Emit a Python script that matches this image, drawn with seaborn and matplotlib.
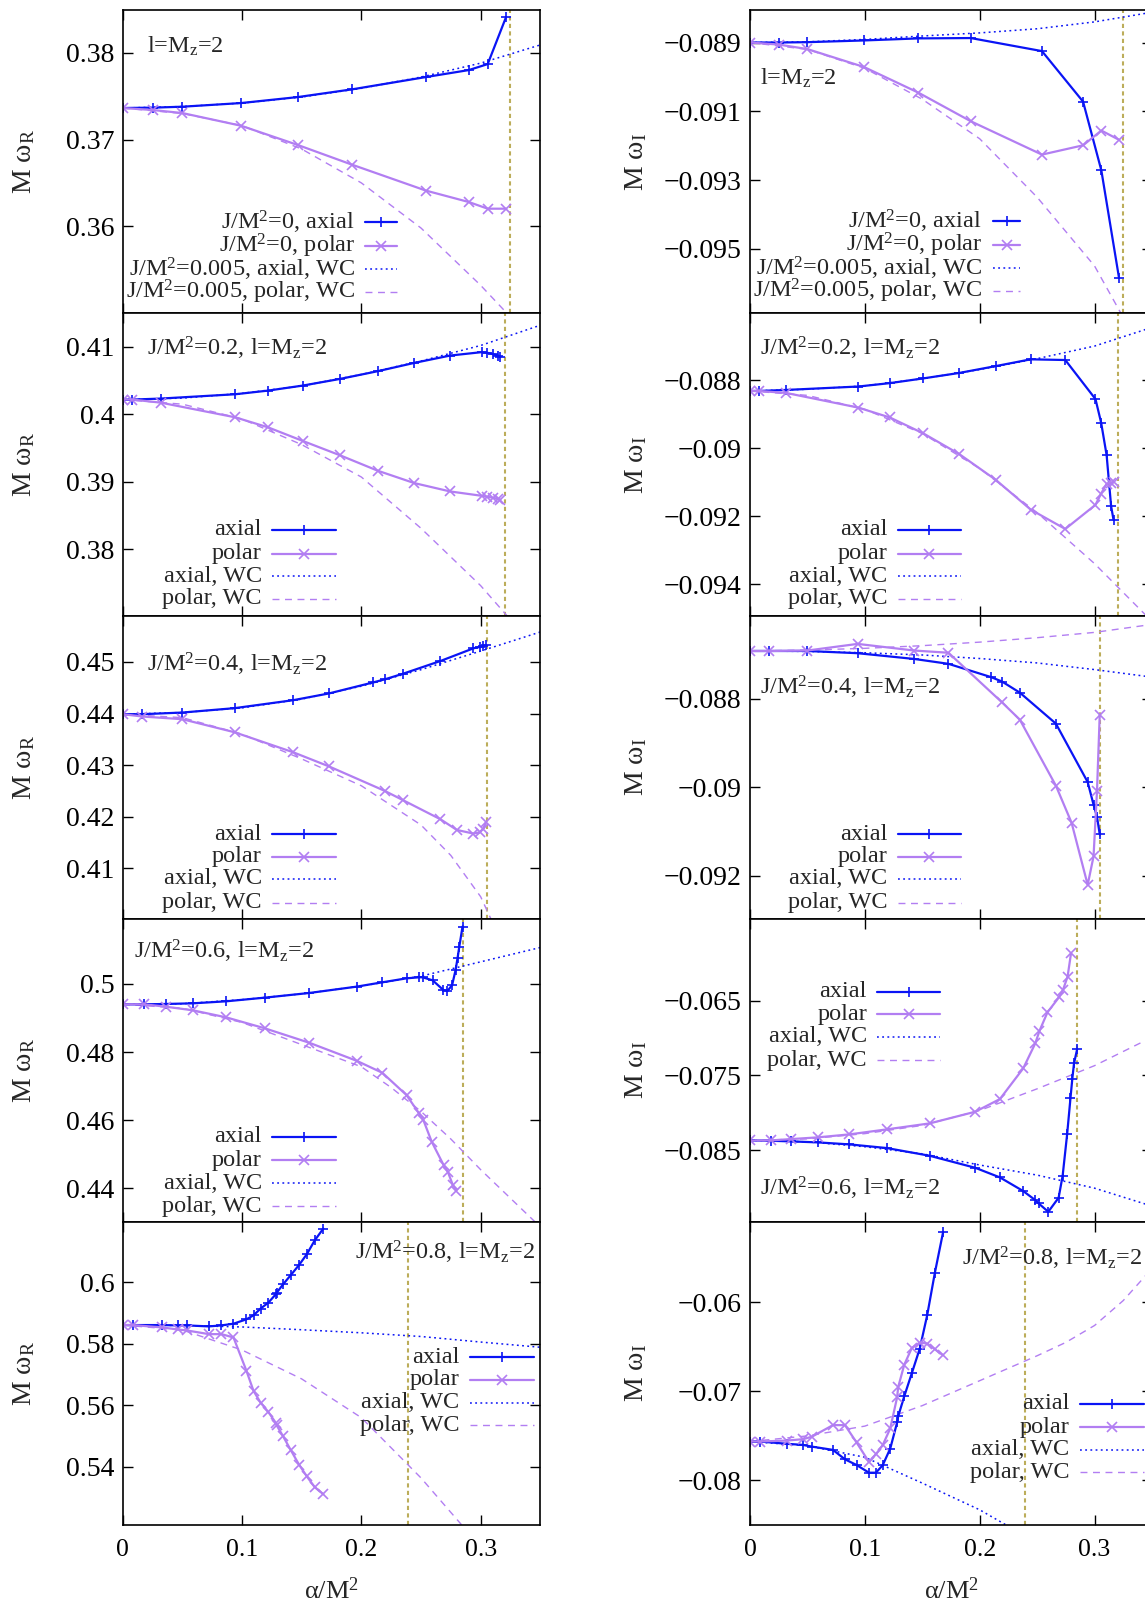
import matplotlib
matplotlib.use("Agg")
import matplotlib.pyplot as plt
import pandas as pd
import seaborn as sns

# ---------------------------------------------------------------- data
# J/M^2 = 0
x_J0 = [0, 0.0251, 0.0499, 0.0991, 0.1467, 0.1922, 0.2542, 0.2900, 0.3059, 0.3213]
wR_ax_J0 = [0.37363, 0.37367, 0.37378, 0.37420, 0.37489, 0.37578, 0.37720, 0.37800, 0.37869, 0.38411]
wR_po_J0 = [0.37363, 0.37340, 0.37305, 0.37159, 0.36937, 0.36710, 0.36411, 0.36280, 0.36203, 0.36203]
wI_ax_J0 = [-0.08900, -0.08900, -0.08899, -0.08894, -0.08888, -0.08887, -0.08925, -0.09072, -0.09272, -0.09585]
wI_po_J0 = [-0.08900, -0.08906, -0.08919, -0.08971, -0.09046, -0.09129, -0.09226, -0.09199, -0.09156, -0.09183]

# weak-coupling curves, J/M^2 = 0.005
x_wc = [0, 0.05, 0.1, 0.15, 0.2, 0.25, 0.3, 0.35]
wcR_ax_J0 = [0.37363, 0.3738, 0.3742, 0.3749, 0.3759, 0.3772, 0.3788, 0.3809]
wcR_po_J0 = [0.37363, 0.3730, 0.3716, 0.3689, 0.3650, 0.3598, 0.3532, 0.3459]
wcI_ax_J0 = [-0.08900, -0.08898, -0.08891, -0.08881, -0.08872, -0.08860, -0.08840, -0.08812]
wcI_po_J0 = [-0.08900, -0.08920, -0.08975, -0.09065, -0.09180, -0.09350, -0.09550, -0.09850]

# J/M^2 = 0.2
x_J2 = [0, 0.0080, 0.0317, 0.0943, 0.1217, 0.1510, 0.1823, 0.2138, 0.2444, 0.2745,
        0.3008, 0.3057, 0.3105, 0.3144, 0.3165]
wR_ax_J2 = [0.40218, 0.40218, 0.40233, 0.40297, 0.40351, 0.40426, 0.40525, 0.40639, 0.40762, 0.40871,
            0.40921, 0.40911, 0.40891, 0.40871, 0.40851]
wR_po_J2 = [0.40218, 0.40218, 0.40173, 0.39955, 0.39807, 0.39604, 0.39391, 0.39163, 0.38980, 0.38856,
            0.38792, 0.38777, 0.38762, 0.38743, 0.38733]
wI_ax_J2 = [-0.08832, -0.08832, -0.08829, -0.08819, -0.08809, -0.08795, -0.08779, -0.08759, -0.08739, -0.08741,
            -0.08856, -0.08925, -0.09021, -0.09171, -0.09211]
wI_po_J2 = [-0.08832, -0.08832, -0.08838, -0.08881, -0.08910, -0.08957, -0.09018, -0.09093, -0.09181, -0.09238,
            -0.09167, -0.09134, -0.09105, -0.09102, -0.09100]
wcR_ax_J2 = [0.40218, 0.4024, 0.4031, 0.4042, 0.4059, 0.4079, 0.4102, 0.4132]
wcR_po_J2 = [0.40218, 0.4015, 0.3993, 0.3955, 0.3907, 0.3831, 0.3746, 0.3645]
wcI_ax_J2 = [-0.08832, -0.08827, -0.08817, -0.08796, -0.08769, -0.08737, -0.08700, -0.08645]
wcI_po_J2 = [-0.08832, -0.08845, -0.08886, -0.08957, -0.09060, -0.09190, -0.09340, -0.09510]

# J/M^2 = 0.4
x_J4a = [0, 0.0164, 0.0499, 0.0937, 0.1430, 0.1728, 0.2099, 0.2194, 0.2349, 0.2663,
         0.2940, 0.2991, 0.3021, 0.3045]
x_J4p = [0, 0.0164, 0.0499, 0.0937, 0.1430, 0.1728, 0.2194, 0.2349, 0.2663, 0.2800,
         0.2940, 0.2991, 0.3021, 0.3045]
wR_ax_J4 = [0.43987, 0.43987, 0.44019, 0.44104, 0.44259, 0.44389, 0.44603, 0.44661, 0.44771, 0.45018,
            0.45264, 0.45290, 0.45303, 0.45328]
wI_ax_J4 = [-0.08692, -0.08692, -0.08692, -0.08697, -0.08710, -0.08721, -0.08751, -0.08761, -0.08786, -0.08856,
            -0.08988, -0.09039, -0.09066, -0.09106]
wR_po_J4 = [0.43987, 0.43942, 0.43890, 0.43637, 0.43248, 0.42976, 0.42503, 0.42321, 0.41951, 0.41744,
            0.41673, 0.41699, 0.41763, 0.41893]
wI_po_J4 = [-0.08692, -0.08692, -0.08691, -0.08676, -0.08691, -0.08696, -0.08808, -0.08847, -0.08996, -0.09080,
            -0.09220, -0.09156, -0.09009, -0.08836]
wcR_ax_J4 = [0.43987, 0.4402, 0.4411, 0.4428, 0.4453, 0.4485, 0.4521, 0.4558]
x_wcR_po_J4 = [0, 0.05, 0.1, 0.15, 0.2, 0.25, 0.275, 0.3, 0.31, 0.33]
wcR_po_J4 = [0.43987, 0.4392, 0.4360, 0.4312, 0.4260, 0.4184, 0.4125, 0.4045, 0.3995, 0.3890]
wcI_ax_J4 = [-0.08692, -0.08693, -0.08696, -0.08701, -0.08709, -0.08719, -0.08734, -0.08751]
wcI_po_J4 = [-0.08692, -0.08690, -0.08686, -0.08680, -0.08672, -0.08662, -0.08650, -0.08632]

# J/M^2 = 0.6
x_J6a = [0, 0.0179, 0.0358, 0.0588, 0.0866, 0.1191, 0.1564, 0.1961, 0.2176, 0.2379,
         0.2484, 0.2513, 0.2597, 0.2687, 0.2722, 0.2761, 0.2790, 0.2806, 0.2821, 0.2848]
x_J6p = [0, 0.0179, 0.0358, 0.0588, 0.0866, 0.1191, 0.1564, 0.1961, 0.2176, 0.2379,
         0.2484, 0.2520, 0.2590, 0.2690, 0.2725, 0.2765, 0.2795]
wR_ax_J6 = [0.49403, 0.49403, 0.49413, 0.49432, 0.49491, 0.49599, 0.49736, 0.49922, 0.50049, 0.50166,
            0.50196, 0.50196, 0.50108, 0.49824, 0.49794, 0.49971, 0.50411, 0.50754, 0.51096, 0.51683]
wI_ax_J6 = [-0.08371, -0.08375, -0.08384, -0.08397, -0.08424, -0.08473, -0.08576, -0.08737, -0.08866, -0.09049,
            -0.09170, -0.09214, -0.09326, -0.09138, -0.08844, -0.08290, -0.07808, -0.07549, -0.07339, -0.07152]
wR_po_J6 = [0.49403, 0.49403, 0.49334, 0.49227, 0.49021, 0.48698, 0.48274, 0.47745, 0.47393, 0.46737,
            0.46199, 0.46003, 0.45367, 0.44682, 0.44486, 0.44114, 0.43938]
wI_po_J6 = [-0.08371, -0.08371, -0.08353, -0.08330, -0.08290, -0.08223, -0.08143, -0.07987, -0.07817, -0.07406,
            -0.07071, -0.06906, -0.06656, -0.06455, -0.06357, -0.06179, -0.05866]
wcR_ax_J6 = [0.49403, 0.4942, 0.4954, 0.4971, 0.4994, 0.5023, 0.5065, 0.5107]
x_wcR_po_J6 = [0, 0.05, 0.1, 0.15, 0.2, 0.225, 0.25, 0.275, 0.3, 0.35]
wcR_po_J6 = [0.49403, 0.4929, 0.4887, 0.4822, 0.4757, 0.4696, 0.4626, 0.4545, 0.4455, 0.4287]
wcI_ax_J6 = [-0.08371, -0.08390, -0.08455, -0.08550, -0.08700, -0.08835, -0.09010, -0.09250]
wcI_po_J6 = [-0.08371, -0.08350, -0.08280, -0.08170, -0.07970, -0.07680, -0.07370, -0.06990]

# J/M^2 = 0.8
x_J8 = [0, 0.0087, 0.0325, 0.0460, 0.0537, 0.0722, 0.0827, 0.0928, 0.1036, 0.1096,
        0.1155, 0.1221, 0.1281, 0.1290, 0.1343, 0.1409, 0.1478, 0.1543, 0.1609, 0.1681]
wR_ax_J8 = [0.58612, 0.58612, 0.58612, 0.58601, 0.58601, 0.58568, 0.58601, 0.58656, 0.58798, 0.58929,
            0.59148, 0.59344, 0.59607, 0.59661, 0.59934, 0.60240, 0.60568, 0.60918, 0.61366, 0.61749]
wI_ax_J8 = [-0.07563, -0.07563, -0.07589, -0.07601, -0.07620, -0.07657, -0.07763, -0.07827, -0.07913, -0.07913,
            -0.07830, -0.07642, -0.07348, -0.07281, -0.07055, -0.06795, -0.06520, -0.06143, -0.05672, -0.05213]
wR_po_J8 = [0.58612, 0.58612, 0.58536, 0.58470, 0.58437, 0.58317, 0.58317, 0.58208, 0.57130, 0.56470,
            0.56090, 0.55780, 0.55440, 0.55350, 0.55000, 0.54540, 0.54070, 0.53690, 0.53340, 0.53110]
wI_po_J8 = [-0.07563, -0.07563, -0.07552, -0.07537, -0.07510, -0.07379, -0.07379, -0.07574, -0.07793, -0.07706,
            -0.07605, -0.07416, -0.07066, -0.06953, -0.06701, -0.06512, -0.06452, -0.06463, -0.06527, -0.06595]
wcR_ax_J8 = [0.58612, 0.5860, 0.5855, 0.5846, 0.5836, 0.5824, 0.5806, 0.5789]
x_wcR_po_J8 = [0, 0.05, 0.1, 0.15, 0.2, 0.25, 0.3]
wcR_po_J8 = [0.58612, 0.5845, 0.5780, 0.5686, 0.5560, 0.5364, 0.5140]
x_wcI_ax_J8 = [0, 0.05, 0.1, 0.15, 0.2, 0.25]
wcI_ax_J8 = [-0.07563, -0.07610, -0.07740, -0.08030, -0.08330, -0.08700]
x_wcI_po_J8 = [0, 0.05, 0.1, 0.15, 0.2, 0.25, 0.275, 0.3, 0.325, 0.35]
wcI_po_J8 = [-0.07563, -0.07500, -0.07390, -0.07160, -0.06880, -0.06600, -0.06450, -0.06260, -0.05980, -0.05620]

# last alpha/M^2 reached by the solutions in each rotation sequence
alpha_max = [0.325, 0.320, 0.305, 0.285, 0.239]

# axis ranges and tick labels
ylim_R = [(0.3500, 0.3849), (0.3701, 0.4150), (0.4002, 0.4589), (0.4302, 0.5191), (0.5212, 0.6197)]
ylim_I = [(-0.09687, -0.08806), (-0.09494, -0.08603), (-0.09297, -0.08613), (-0.0946, -0.05406), (-0.08497, -0.05096)]
yticks_R = [[0.36, 0.37, 0.38], [0.38, 0.39, 0.40, 0.41], [0.41, 0.42, 0.43, 0.44, 0.45],
            [0.44, 0.46, 0.48, 0.50], [0.54, 0.56, 0.58, 0.60]]
yticklabels_R = [["0.36", "0.37", "0.38"], ["0.38", "0.39", "0.4", "0.41"],
                 ["0.41", "0.42", "0.43", "0.44", "0.45"], ["0.44", "0.46", "0.48", "0.5"],
                 ["0.54", "0.56", "0.58", "0.6"]]
yticks_I = [[-0.095, -0.093, -0.091, -0.089], [-0.094, -0.092, -0.090, -0.088], [-0.092, -0.090, -0.088],
            [-0.085, -0.075, -0.065], [-0.08, -0.07, -0.06]]
yticklabels_I = [["−0.095", "−0.093", "−0.091", "−0.089"], ["−0.094", "−0.092", "−0.09", "−0.088"],
                 ["−0.092", "−0.09", "−0.088"], ["−0.085", "−0.075", "−0.065"], ["−0.08", "−0.07", "−0.06"]]
xticks = [0, 0.1, 0.2, 0.3]
xticklabels = ["0", "0.1", "0.2", "0.3"]

panel_titles = ["l=M$_\\mathrm{z}$=2",
                "J/M$^\\mathrm{2}$=0.2, l=M$_\\mathrm{z}$=2",
                "J/M$^\\mathrm{2}$=0.4, l=M$_\\mathrm{z}$=2",
                "J/M$^\\mathrm{2}$=0.6, l=M$_\\mathrm{z}$=2",
                "J/M$^\\mathrm{2}$=0.8, l=M$_\\mathrm{z}$=2"]
key_labels_J0 = ["J/M$^\\mathrm{2}$=0, axial", "J/M$^\\mathrm{2}$=0, polar",
                 "J/M$^\\mathrm{2}$=0.005, axial, WC", "J/M$^\\mathrm{2}$=0.005, polar, WC"]
key_labels = ["axial", "polar", "axial, WC", "polar, WC"]

# ---------------------------------------------------------------- style
FS = 17.5        # key and panel text
FS_TICK_Y = 20
FS_TICK_X = 18.5
FS_LABEL = 20

sns.set_theme(style="ticks")
plt.rcParams.update({
    "font.family": ["Liberation Serif", "DejaVu Serif"],
    "mathtext.fontset": "custom",
    "mathtext.rm": "Liberation Serif",
    "mathtext.it": "Liberation Serif:italic",
    "mathtext.bf": "Liberation Serif:bold",
    "font.size": FS,
    "axes.linewidth": 1.2,
    "axes.edgecolor": "black",
    "xtick.color": "black",
    "ytick.color": "black",
    "xtick.direction": "in",
    "ytick.direction": "in",
    "xtick.major.size": 7,
    "ytick.major.size": 7,
    "xtick.major.width": 1.0,
    "ytick.major.width": 1.0,
    "xtick.top": True,
    "ytick.right": True,
    "xtick.labelsize": FS_TICK_X,
    "ytick.labelsize": FS_TICK_Y,
})

C_AX = "#0a14f5"
C_PO = "#b27ef2"
C_LIM = "#bcad5a"
LS_DOT = (0, (1.2, 2.2))
LS_DASH = (0, (5, 4))


def series(ax, x, y, color, marker=None, ls="-", lw=1.6):
    df = pd.DataFrame({"alpha": x, "omega": y})
    kw = dict(data=df, x="alpha", y="omega", ax=ax, color=color, sort=False,
              estimator=None, linewidth=lw, linestyle=ls, legend=False)
    if marker is not None:
        kw.update(marker=marker, markersize=7, markeredgewidth=1.2,
                  markeredgecolor=color)
    sns.lineplot(**kw)


def key(ax, labels, xt, x0, x1, ys):
    specs = [(C_AX, "-", "+", 1.6), (C_PO, "-", "x", 1.6),
             (C_AX, LS_DOT, None, 1.1), (C_PO, LS_DASH, None, 1.0)]
    for lab, (c, ls, m, lw), y in zip(labels, specs, ys):
        ax.text(xt, y, lab, transform=ax.transAxes, ha="right", va="center",
                fontsize=FS)
        ax.plot([x0, x1], [y, y], transform=ax.transAxes, color=c, ls=ls,
                lw=lw, clip_on=False)
        if m is not None:
            ax.plot([(x0 + x1) / 2], [y], transform=ax.transAxes, color=c,
                    marker=m, ms=7, mew=1.2, clip_on=False)


rows = [
    dict(xa=x_J0, ra=wR_ax_J0, ia=wI_ax_J0, xp=x_J0, rp=wR_po_J0, ip=wI_po_J0,
         xra=x_wc, rwa=wcR_ax_J0, xrp=x_wc, rwp=wcR_po_J0,
         xia=x_wc, iwa=wcI_ax_J0, xip=x_wc, iwp=wcI_po_J0),
    dict(xa=x_J2, ra=wR_ax_J2, ia=wI_ax_J2, xp=x_J2, rp=wR_po_J2, ip=wI_po_J2,
         xra=x_wc, rwa=wcR_ax_J2, xrp=x_wc, rwp=wcR_po_J2,
         xia=x_wc, iwa=wcI_ax_J2, xip=x_wc, iwp=wcI_po_J2),
    dict(xa=x_J4a, ra=wR_ax_J4, ia=wI_ax_J4, xp=x_J4p, rp=wR_po_J4, ip=wI_po_J4,
         xra=x_wc, rwa=wcR_ax_J4, xrp=x_wcR_po_J4, rwp=wcR_po_J4,
         xia=x_wc, iwa=wcI_ax_J4, xip=x_wc, iwp=wcI_po_J4),
    dict(xa=x_J6a, ra=wR_ax_J6, ia=wI_ax_J6, xp=x_J6p, rp=wR_po_J6, ip=wI_po_J6,
         xra=x_wc, rwa=wcR_ax_J6, xrp=x_wcR_po_J6, rwp=wcR_po_J6,
         xia=x_wc, iwa=wcI_ax_J6, xip=x_wc, iwp=wcI_po_J6),
    dict(xa=x_J8, ra=wR_ax_J8, ia=wI_ax_J8, xp=x_J8, rp=wR_po_J8, ip=wI_po_J8,
         xra=x_wc, rwa=wcR_ax_J8, xrp=x_wcR_po_J8, rwp=wcR_po_J8,
         xia=x_wcI_ax_J8, iwa=wcI_ax_J8, xip=x_wcI_po_J8, iwp=wcI_po_J8),
]

# title anchor (x, y, ha) and key layout (text x, sample x0, x1, row ys)
title_pos_R = [(0.059, 0.880, "left"), (0.057, 0.885, "left"), (0.057, 0.841, "left"),
               (0.027, 0.892, "left"), (0.987, 0.898, "right")]
title_pos_I = [(0.026, 0.774, "left"), (0.026, 0.885, "left"), (0.026, 0.764, "left"),
               (0.026, 0.111, "left"), (0.974, 0.878, "right")]
key_pos_R = [(0.556, 0.581, 0.657, [0.300, 0.222, 0.145, 0.071]),
             (0.333, 0.358, 0.510, [0.284, 0.206, 0.132, 0.057]),
             (0.333, 0.358, 0.510, [0.280, 0.206, 0.132, 0.054]),
             (0.333, 0.358, 0.510, [0.280, 0.203, 0.128, 0.051]),
             (0.806, 0.831, 0.985, [0.553, 0.478, 0.403, 0.329])]
key_pos_I = [(0.577, 0.605, 0.672, [0.303, 0.226, 0.148, 0.074]),
             (0.342, 0.367, 0.524, [0.284, 0.206, 0.132, 0.057]),
             (0.342, 0.367, 0.524, [0.280, 0.206, 0.132, 0.054]),
             (0.291, 0.316, 0.473, [0.760, 0.686, 0.611, 0.534]),
             (0.795, 0.822, 0.980, [0.400, 0.322, 0.247, 0.173])]

# ---------------------------------------------------------------- figure
W, H = 1145, 1604
fig = plt.figure(figsize=(W / 100, H / 100), dpi=100)

top_px, row_h = 10.2, 302.9
left_L, width_L = 122.8, 417.5
left_R, width_R = 750.0, 402.0

for i, r in enumerate(rows):
    bottom = 1 - (top_px + (i + 1) * row_h) / H
    h = row_h / H
    axL = fig.add_axes([left_L / W, bottom, width_L / W, h])
    axR = fig.add_axes([left_R / W, bottom, width_R / W, h])

    for ax, comp in ((axL, "R"), (axR, "I")):
        if comp == "R":
            series(ax, r["xra"], r["rwa"], C_AX, ls=LS_DOT, lw=1.1)
            series(ax, r["xrp"], r["rwp"], C_PO, ls=LS_DASH, lw=1.0)
            series(ax, r["xa"], r["ra"], C_AX, marker="+")
            series(ax, r["xp"], r["rp"], C_PO, marker="x")
            ax.set_ylim(*ylim_R[i])
            ax.set_yticks(yticks_R[i])
            ax.set_yticklabels(yticklabels_R[i])
            ax.set_ylabel("M ω$_\\mathrm{R}$", fontsize=FS_LABEL)
            ax.yaxis.set_label_coords(-0.205, 0.5)
            tx, ty, tha = title_pos_R[i]
            kx, k0, k1, kys = key_pos_R[i]
        else:
            series(ax, r["xia"], r["iwa"], C_AX, ls=LS_DOT, lw=1.1)
            series(ax, r["xip"], r["iwp"], C_PO, ls=LS_DASH, lw=1.0)
            series(ax, r["xa"], r["ia"], C_AX, marker="+")
            series(ax, r["xp"], r["ip"], C_PO, marker="x")
            ax.set_ylim(*ylim_I[i])
            ax.set_yticks(yticks_I[i])
            ax.set_yticklabels(yticklabels_I[i])
            ax.set_ylabel("M ω$_\\mathrm{I}$", fontsize=FS_LABEL)
            ax.yaxis.set_label_coords(-0.252, 0.5)
            tx, ty, tha = title_pos_I[i]
            kx, k0, k1, kys = key_pos_I[i]

        ax.axvline(alpha_max[i], color=C_LIM, lw=1.5, ls=(0, (2.0, 1.6)), zorder=1)
        ax.set_xlim(0, 0.35)
        ax.set_xticks(xticks)
        if i == len(rows) - 1:
            ax.set_xticklabels(xticklabels)
            ax.set_xlabel("α/M$^\\mathrm{2}$", fontsize=FS_LABEL - 1)
            ax.xaxis.set_label_coords(0.5, -0.175)
        else:
            ax.set_xticklabels([])
            ax.set_xlabel("")
        ax.tick_params(axis="y", pad=6)
        ax.tick_params(axis="x", pad=10)
        ax.text(tx, ty, panel_titles[i], transform=ax.transAxes, ha=tha,
                va="center", fontsize=FS)
        key(ax, key_labels_J0 if i == 0 else key_labels, kx, k0, k1, kys)
        for s in ax.spines.values():
            s.set_linewidth(1.2)
            s.set_color("black")

fig.savefig("out.png", dpi=100)
